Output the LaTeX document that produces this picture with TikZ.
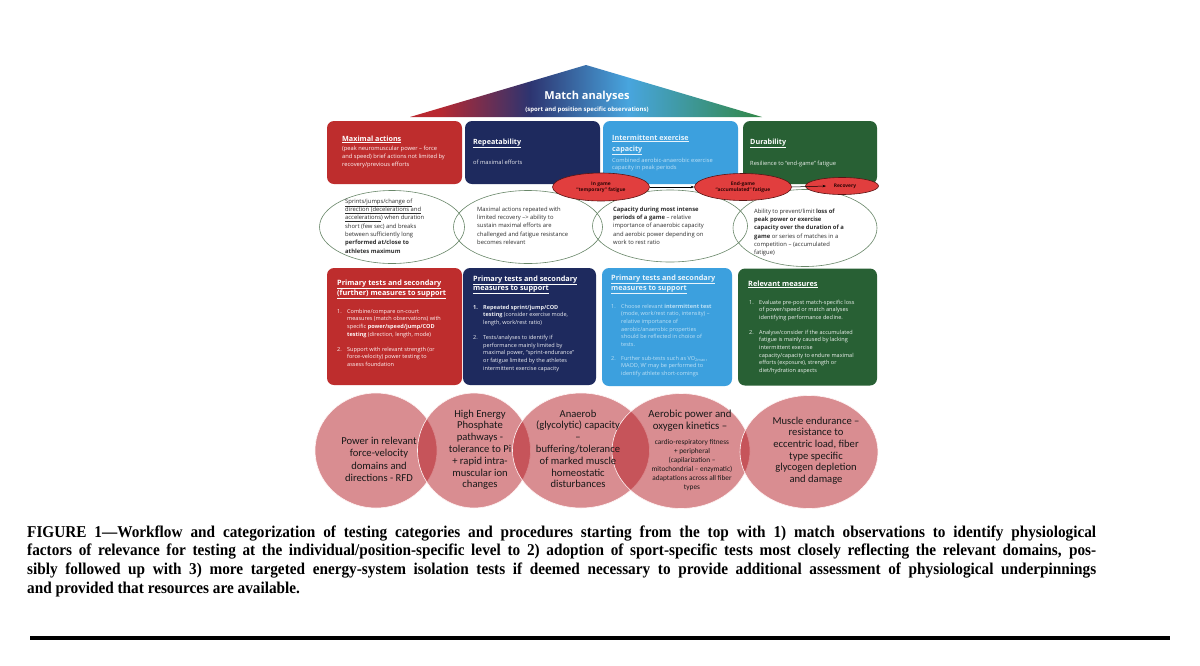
\documentclass[tikz,border=0pt]{standalone}
\usepackage{fontspec}
\setmainfont{Open Sans}
\newfontfamily\calfont{Carlito}
\newfontfamily\capfont{Liberation Serif}[FakeStretch=0.925]
\usetikzlibrary{shapes.geometric,arrows.meta}
\definecolor{boxred}{RGB}{190,45,45}
\definecolor{boxnavy}{RGB}{30,42,94}
\definecolor{boxlblue}{RGB}{60,160,222}
\definecolor{boxgreen}{RGB}{40,96,52}
\definecolor{roofred}{RGB}{185,40,48}
\definecolor{roofnavy}{RGB}{45,52,112}
\definecolor{roofblue}{RGB}{72,165,222}
\definecolor{roofgreen}{RGB}{50,135,70}
\definecolor{circred}{RGB}{181,29,37}
\definecolor{circtext}{RGB}{25,25,25}
\definecolor{gline}{RGB}{105,135,105}
\definecolor{gtextc}{RGB}{45,45,45}
\definecolor{fatred}{RGB}{225,62,62}
\definecolor{fatline}{RGB}{90,20,20}
\definecolor{fattext}{RGB}{45,5,5}
\definecolor{lbtext}{RGB}{190,225,246}
\definecolor{lbhead}{RGB}{232,244,252}
\pgfdeclarehorizontalshading{roofshade}{100bp}{color(0bp)=(roofred); color(29bp)=(roofred); color(42bp)=(roofnavy); color(56bp)=(roofblue); color(75bp)=(roofgreen); color(100bp)=(roofgreen)}
\newcommand\lblock[1]{\parbox[t]{220pt}{\raggedright #1}}
\newcommand\cblock[1]{\parbox[t]{160pt}{\centering #1}}
\newcommand\nm[1]{\makebox[10pt][l]{#1}}
\newcommand\hangi{\hspace*{10pt}}
\begin{document}
\begin{tikzpicture}[x=1pt,y=-1pt,
  boxshape/.style={rectangle, rounded corners=7pt, inner sep=0pt},
  head/.style={anchor=base west, inner sep=0pt, text=white, font=\fontsize{7.2}{10}\selectfont\bfseries},
  tbody/.style={anchor=base west, inner sep=0pt, font=\fontsize{5.75}{8.3}\selectfont},
  gtext/.style={anchor=base west, inner sep=0pt, text=gtextc, font=\fontsize{5.85}{8.35}\selectfont},
  bbody/.style={anchor=base west, inner sep=0pt, font=\fontsize{5.55}{7.7}\selectfont},
  gell/.style={ellipse, draw=gline, line width=0.6pt, inner sep=0pt},
  circ/.style={ellipse, fill=circred, fill opacity=0.5, draw=white!85!pink, line width=0.6pt, inner sep=0pt},
  ctext/.style={anchor=base, inner sep=0pt, text=circtext, font=\calfont\fontsize{10.6}{11.8}\selectfont},
  fatigue/.style={ellipse, fill=fatred, draw=fatline, line width=0.6pt, inner sep=0pt, align=center, text=fattext, font=\fontsize{4.9}{6}\selectfont\bfseries},
  capline/.style={anchor=base west, inner sep=0pt, text=black, font=\capfont\fontsize{16.5}{18}\selectfont\bfseries}
]
\useasboundingbox (0,0) rectangle (1200,665);
\fill[white] (0,0) rectangle (1200,665);

% roof
\shade[shading=roofshade] (410,117) -- (586,65) -- (762,117) -- cycle;
\node[anchor=base, inner sep=0pt, text=white, font=\fontsize{11}{12}\selectfont\bfseries] (title) at (587,99) {Match analyses};
\node[anchor=base, inner sep=0pt, text=white, font=\fontsize{6}{7}\selectfont\bfseries] (subtitle) at (587,111.5) {(sport and position specific observations)};

% top boxes
\node[boxshape, fill=boxred, minimum width=135pt, minimum height=63pt] (t1) at (394.5,152.5) {};
\node[boxshape, fill=boxnavy, minimum width=135pt, minimum height=63pt] (t2) at (532.5,152.5) {};
\node[boxshape, fill=boxlblue, minimum width=135pt, minimum height=63pt] (t3) at (670.5,152.5) {};
\node[boxshape, fill=boxgreen, minimum width=134pt, minimum height=63pt] (t4) at (810,152.5) {};

\node[head] (t1h) at (342,141) {\underline{Maximal actions}};
\node[tbody, text=white!88!pink] (t1b) at (342,150) {\lblock{(peak neuromuscular power – force\\and speed) brief actions not limited by\\recovery/previous efforts}};
\node[head] (t2h) at (473,144) {\underline{Repeatability}};
\node[tbody, text=white!90!boxnavy] (t2b) at (473,164.5) {of maximal efforts};
\node[head, text=lbhead, font=\fontsize{7.2}{11}\selectfont\bfseries] (t3h) at (612,140) {\lblock{\underline{Intermittent exercise}\\\underline{capacity}}};
\node[tbody, text=lbtext, font=\fontsize{5.75}{7.5}\selectfont] (t3b) at (612,162) {\lblock{Combined aerobic-anaerobic exercise\\capacity in peak periods}};
\node[head] (t4h) at (750,144) {\underline{Durability}};
\node[tbody, text=white!90!boxgreen] (t4b) at (750,165) {Resilience to “end-game” fatigue};

% green ellipses
\node[gell, minimum width=145pt, minimum height=73pt] (g1) at (392,227) {};
\node[gell, minimum width=149pt, minimum height=73pt] (g2) at (528,227) {};
\node[gell, minimum width=155pt, minimum height=72pt] (g3) at (670,226) {};
\node[gell, minimum width=144pt, minimum height=77pt] (g4) at (805,228) {};

\node[gtext] (g1t) at (345,203) {\lblock{\underline{Sprints/jumps/change of}\\\underline{direction (decelerations and}\\\underline{accelerations}) when duration\\short (few sec) and breaks\\between sufficiently long\\\textbf{performed at/close to}\\\textbf{athletes maximum}}};
\node[gtext] (g2t) at (477,211) {\lblock{Maximal actions repeated with\\limited recovery –> ability to\\sustain maximal efforts are\\challenged and fatigue resistance\\becomes relevant}};
\node[gtext] (g3t) at (613,211) {\lblock{\textbf{Capacity during most intense}\\\textbf{periods of a game} – relative\\importance of anaerobic capacity\\and aerobic power depending on\\work to rest ratio}};
\node[gtext] (g4t) at (754,213) {\lblock{Ability to prevent/limit \textbf{loss of}\\\textbf{peak power or exercise}\\\textbf{capacity over the duration of a}\\\textbf{game} or series of matches in a\\competition – (accumulated\\fatigue)}};

% second row boxes
\node[boxshape, fill=boxred, minimum width=135pt, minimum height=117pt] (b1) at (394.5,326.5) {};
\node[boxshape, fill=boxnavy, minimum width=133pt, minimum height=117pt] (b2) at (529.5,326.5) {};
\node[boxshape, fill=boxlblue, minimum width=130pt, minimum height=118pt] (b3) at (667,327) {};
\node[boxshape, fill=boxgreen, minimum width=139pt, minimum height=117pt] (b4) at (807.5,327) {};

\node[head, font=\fontsize{7.3}{9.5}\selectfont\bfseries] (b1h) at (337,285.5) {\lblock{\underline{Primary tests and secondary}\\\underline{(further) measures to support}}};
\node[head, font=\fontsize{7.3}{9.5}\selectfont\bfseries] (b2h) at (473,281) {\lblock{\underline{Primary tests and secondary}\\\underline{measures to support}}};
\node[head, text=lbhead, font=\fontsize{7.3}{10}\selectfont\bfseries] (b3h) at (611,280) {\lblock{\underline{Primary tests and secondary}\\\underline{measures to support}}};
\node[head, font=\fontsize{7.3}{10}\selectfont\bfseries] (b4h) at (748,286) {\underline{Relevant measures}};

\node[bbody, text=white!88!pink] (b1b) at (337,313) {\lblock{\nm{1.}Combine/compare on-court\\\hangi measures (match observations) with\\\hangi specific \textbf{power/speed/jump/COD}\\\hangi\textbf{testing} (direction, length, mode)\\[7.3pt]\nm{2.}Support with relevant strength (or\\\hangi force-velocity) power testing to\\\hangi assess foundation}};
\node[bbody, text=white!92!boxnavy] (b2b) at (473,309) {\lblock{\nm{\textbf{1.}}\textbf{Repeated sprint/jump/COD}\\\hangi\textbf{testing} (consider exercise mode,\\\hangi length, work/rest ratio)\\[7.3pt]\nm{2.}Tests/analyses to identify if\\\hangi performance mainly limited by\\\hangi maximal power, “sprint-endurance”\\\hangi or fatigue limited by the athletes\\\hangi intermittent exercise capacity}};
\node[bbody, text=lbtext] (b3b) at (611,308) {\lblock{\nm{1.}Choose relevant \textbf{intermittent test}\\\hangi(mode, work/rest ratio, intensity) –\\\hangi relative importance of\\\hangi aerobic/anaerobic properties\\\hangi should be reflected in choice of\\\hangi tests.\\[5.8pt]\nm{2.}Further sub-tests such as VO\textsubscript{2max},\\\hangi MAOD, W' may be performed to\\\hangi identify athlete short-comings}};
\node[bbody, text=white!92!boxgreen, font=\fontsize{5.55}{7.6}\selectfont] (b4b) at (749,304) {\lblock{\nm{1.}Evaluate pre-post match-specific loss\\\hangi of power/speed or match analyses\\\hangi identifying performance decline.\\[7.4pt]\nm{2.}Analyse/consider if the accumulated\\\hangi fatigue is mainly caused by lacking\\\hangi intermittent exercise\\\hangi capacity/capacity to endure maximal\\\hangi efforts (exposure), strength or\\\hangi diet/hydration aspects}};

% circles
\node[circ, minimum width=122pt, minimum height=115pt] (c1) at (376,450.5) {};
\node[circ, minimum width=113pt, minimum height=115pt] (c2) at (474,450.5) {};
\node[circ, minimum width=137pt, minimum height=115pt] (c3) at (581,450.5) {};
\node[circ, minimum width=138pt, minimum height=115pt] (c4) at (681,451) {};
\node[circ, minimum width=138pt, minimum height=113pt] (c5) at (809,452) {};

\node[ctext, font=\calfont\fontsize{10.6}{12.5}\selectfont] (c1t) at (379,444) {\cblock{Power in relevant\\force-velocity\\domains and\\directions - RFD}};
\node[ctext] (c2t) at (480,417) {\cblock{High Energy\\Phosphate\\pathways -\\tolerance to Pi\\+ rapid intra-\\muscular ion\\changes}};
\node[ctext] (c3t) at (578,417) {\cblock{Anaerob\\(glycolytic) capacity\\–\\buffering/tolerance\\of marked muscle\\homeostatic\\disturbances}};
\node[ctext, font=\calfont\fontsize{10.8}{12}\selectfont] (c4t) at (690,417) {\cblock{Aerobic power and\\oxygen kinetics –}};
\node[ctext, font=\calfont\fontsize{7.3}{8.9}\selectfont] (c4s) at (692,444.5) {\cblock{cardio-respiratory fitness\\+ peripheral\\(capilarization –\\mitochondrial – enzymatic)\\adaptations across all fiber\\types}};
\node[ctext, font=\calfont\fontsize{10.6}{11.7}\selectfont] (c5t) at (816,424) {\cblock{Muscle endurance –\\resistance to\\eccentric load, fiber\\type specific\\glycogen depletion\\and damage}};

% fatigue ellipses
\node[fatigue, minimum width=97pt, minimum height=28pt] (e1) at (601,187) {In game\\“temporary” fatigue};
\node[fatigue, minimum width=97pt, minimum height=27pt] (e2) at (743,187) {End-game\\“accumulated” fatigue};
\node[fatigue, minimum width=73pt, minimum height=17pt] (e3) at (842,186) {\hspace*{6pt}Recovery};
\coordinate (recin) at (826,186);
\draw[-{Stealth[length=3.5pt,width=2.5pt]}, line width=0.5pt] (e1.east) -- (e2.west);
\draw[-{Stealth[length=3.5pt,width=2.5pt]}, line width=0.5pt] (e2.east) -- (recin);

% caption
\node[capline] (cap1) at (27,537) {\makebox[1069pt][s]{FIGURE 1—Workflow and categorization of testing categories and procedures starting from the top with 1) match observations to identify physiological}};
\node[capline] (cap2) at (27,555.5) {\makebox[1069pt][s]{factors of relevance for testing at the individual/position-specific level to 2) adoption of sport-specific tests most closely reflecting the relevant domains, pos-}};
\node[capline] (cap3) at (27,574.5) {\makebox[1069pt][s]{sibly followed up with 3) more targeted energy-system isolation tests if deemed necessary to provide additional assessment of physiological underpinnings}};
\node[capline] (cap4) at (27,593) {and provided that resources are available.};

% rule
\coordinate (ruleL) at (30,638);
\coordinate (ruleR) at (1170,638);
\draw[line width=3.5pt] (ruleL) -- (ruleR);
\end{tikzpicture}
\end{document}
